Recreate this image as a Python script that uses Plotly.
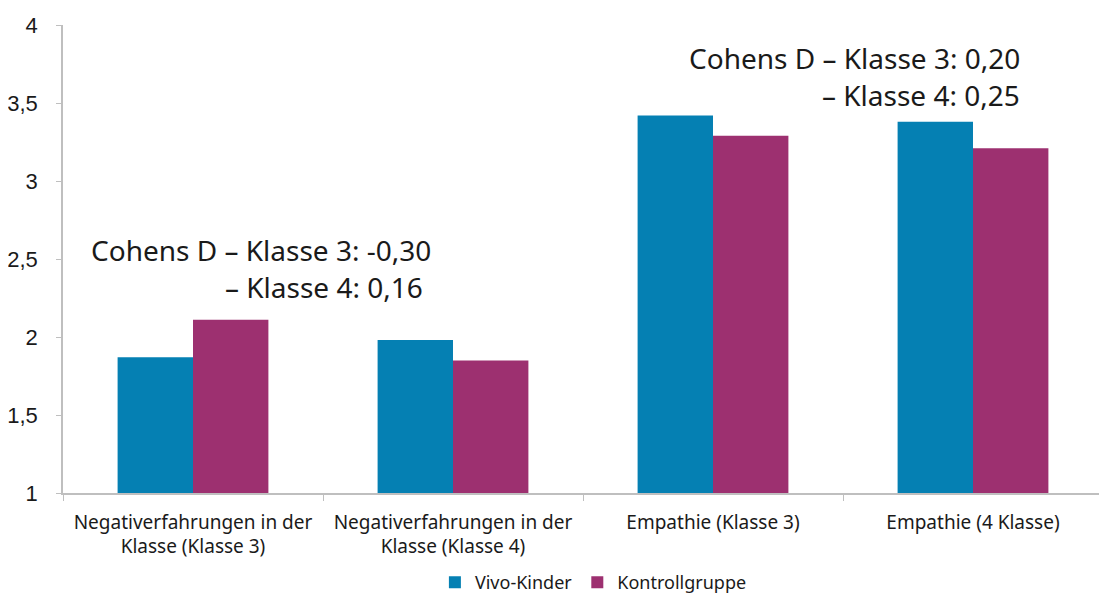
import plotly.graph_objects as go

categories = [
    "Negativerfahrungen in der<br>Klasse (Klasse 3)",
    "Negativerfahrungen in der<br>Klasse (Klasse 4)",
    "Empathie (Klasse 3)",
    "Empathie (4 Klasse)",
]
vivo = [1.87, 1.98, 3.42, 3.38]
kontroll = [2.11, 1.85, 3.29, 3.21]
series_names = ["Vivo-Kinder", "Kontrollgruppe"]
y_tickvals = [1, 1.5, 2, 2.5, 3, 3.5, 4]
y_ticktext = ["1", "1,5", "2", "2,5", "3", "3,5", "4"]

BLUE = "#0580B3"
MAGENTA = "#9D3070"
LABEL_FONT = "Noto Sans"

fig = go.Figure()
fig.add_trace(go.Bar(x=categories, y=vivo, name=series_names[0], marker_color=BLUE,
                     marker_line_width=0, base=0))
fig.add_trace(go.Bar(x=categories, y=kontroll, name=series_names[1], marker_color=MAGENTA,
                     marker_line_width=0, base=0))

ann_font = dict(family=LABEL_FONT, size=28, color="#1a1a1a")
annotations = [
    dict(text="Cohens D – Klasse 3: -0,30", x=0.025, y=2.56),
    dict(text="– Klasse 4: 0,16", x=0.154, y=2.32),
    dict(text="Cohens D – Klasse 3: 0,20", x=0.600, y=3.79),
    dict(text="– Klasse 4: 0,25", x=0.728, y=3.55),
]
for a in annotations:
    fig.add_annotation(xref="paper", yref="y", xanchor="left", yanchor="middle",
                       showarrow=False, font=ann_font, **a)

fig.update_layout(
    width=1099, height=592,
    margin=dict(l=55, r=4, t=17, b=107, autoexpand=False),
    paper_bgcolor="white", plot_bgcolor="white",
    barmode="group", bargap=0.42, bargroupgap=0,
    showlegend=True,
    legend=dict(orientation="h", x=0.51, xanchor="center", y=-0.152, yanchor="top",
                font=dict(family=LABEL_FONT, size=18, color="#1a1a1a"),
                itemwidth=30, tracegroupgap=0),
    xaxis=dict(showline=True, linecolor="#BFBFBF", linewidth=1.5,
               ticks="outside", tickson="boundaries", ticklen=6, tickcolor="#BFBFBF",
               ticklabelstandoff=11, automargin=False,
               tickfont=dict(family=LABEL_FONT, size=19, color="#1a1a1a"),
               showgrid=False),
    yaxis=dict(range=[1, 4], tickvals=y_tickvals, ticktext=y_ticktext,
               showline=True, linecolor="#BFBFBF", linewidth=1.5,
               ticks="outside", ticklen=5, tickcolor="#BFBFBF",
               ticklabelstandoff=14, automargin=False,
               tickfont=dict(family="Liberation Sans", size=22, color="#1a1a1a"),
               showgrid=False, zeroline=False),
)

fig.write_html("out.html")
